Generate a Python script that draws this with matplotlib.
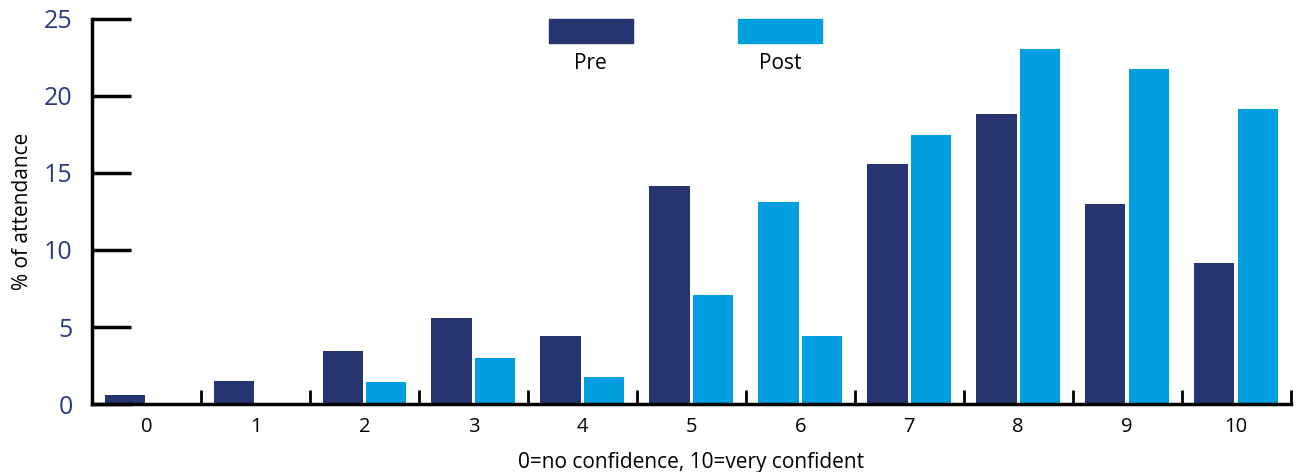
import matplotlib.pyplot as plt
import numpy as np
from matplotlib.patches import Rectangle

plt.rcParams['font.family'] = ['Open Sans', 'DejaVu Sans']

categories = [str(i) for i in range(11)]
pre = [0.6, 1.5, 3.45, 5.6, 4.4, 14.15, 13.1, 15.6, 18.8, 13.0, 9.15]
post = [0.0, 0.0, 1.45, 3.0, 1.75, 7.08, 4.4, 17.45, 23.05, 21.75, 19.15]

navy = '#263570'
light = '#009fe0'
# the original colours the "6" Pre bar light blue
pre_colors = [navy] * 11
pre_colors[6] = light

fig = plt.figure(figsize=(12.97, 4.72), dpi=100)
ax = fig.add_axes([0.071, 0.144, 0.924, 0.816])

x = np.arange(len(categories))
w = 0.37
ax.bar(x - 0.2, pre, w, color=pre_colors)
ax.bar(x + 0.2, post, w, color=light)

ax.set_xlim(-0.5, 10.5)
ax.set_ylim(0, 25)
ax.set_yticks([0, 5, 10, 15, 20, 25])
ax.set_xticks(x)
ax.set_xticklabels(categories)
ax.set_xticks(np.arange(0.5, 11, 1), minor=True)

ax.tick_params(axis='x', which='major', length=0, labelsize=14.5, pad=9, labelcolor='black')
ax.tick_params(axis='x', which='minor', direction='in', length=10, width=2)
ax.tick_params(axis='y', direction='in', length=28, width=2.5, labelsize=18,
               labelcolor='#2c3a80', pad=14)

for s in ['top', 'right']:
    ax.spines[s].set_visible(False)
ax.spines['left'].set_linewidth(2.5)
ax.spines['bottom'].set_linewidth(2.5)

ax.set_ylabel('% of attendance', fontsize=15, labelpad=8)
ax.set_xlabel('0=no confidence, 10=very confident', fontsize=15, labelpad=11)

# legend drawn as swatches with labels underneath
for lab, col, cx in [('Pre', navy, 0.4161), ('Post', light, 0.5740)]:
    ax.add_patch(Rectangle((cx - 0.035, 0.937), 0.07, 0.063, transform=ax.transAxes,
                           color=col, clip_on=False))
    ax.text(cx, 0.885, lab, transform=ax.transAxes, ha='center', va='center', fontsize=15)

fig.savefig('out.png', dpi=100)
